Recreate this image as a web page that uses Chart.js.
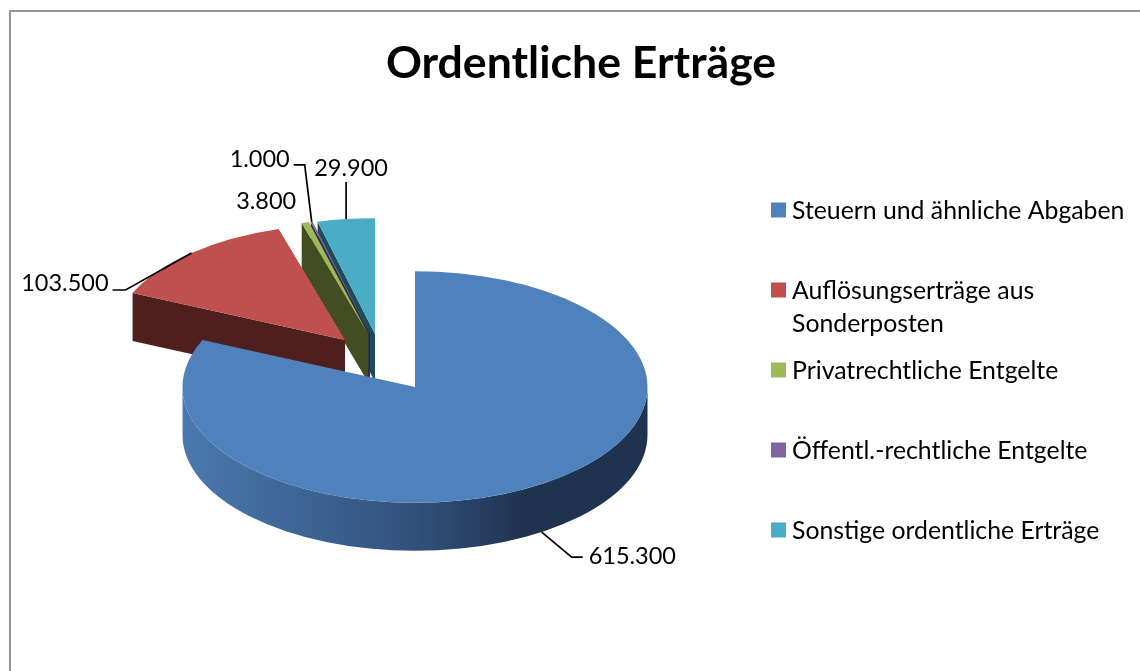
<!DOCTYPE html>
<html lang="de">
<head>
<meta charset="utf-8">
<title>Ordentliche Erträge</title>
<script src="https://cdn.jsdelivr.net/npm/chart.js@4/dist/chart.umd.min.js"></script>
<style>
  html, body { margin: 0; padding: 0; background: #fff; overflow: hidden; }
  #rahmen { position: absolute; left: 9px; top: 10px; width: 1140px; height: 670px; border: 2px solid #969696; box-sizing: border-box; }
  #diagramm { position: absolute; left: 0; top: 0; }
</style>
</head>
<body>
<div id="rahmen"></div>
<canvas id="diagramm" width="1140" height="671"></canvas>
<script>
const kategorien = ["Steuern und ähnliche Abgaben", "Auflösungserträge aus Sonderposten", "Privatrechtliche Entgelte", "Öffentl.-rechtliche Entgelte", "Sonstige ordentliche Erträge"];
const werte = [615300, 103500, 3800, 1000, 29900];
const farben = ["#4f81bd", "#c0504d", "#9bbb59", "#8064a2", "#4bacc6"];
const seitenFarben = ["#1f3350", "#4f1f1e", "#434d22", "#362a45", "#1e4a5a"];

// Legende: Zeilen pro Eintrag (Umbruch wie im Original)
const legendeZeilen = [["Steuern und ähnliche Abgaben"], ["Auflösungserträge aus", "Sonderposten"], ["Privatrechtliche Entgelte"], ["Öffentl.-rechtliche Entgelte"], ["Sonstige ordentliche Erträge"]];

const FONT = "Lato, Carlito, sans-serif";
const PIE = { x: 415, y: 387, r: 232.5, kipp: 0.498, tiefe: 48 };
// Verschiebung der herausgezogenen Stücke
const versatz = [[0, 0], [-70, -47], [-47, -53], [-45, -53], [-40, -53]];
// Führungslinien und Beschriftung relativ zum Randpunkt des Stücks
const fuehrung = [
    { linie: [[30, 25], [41, 25]], text: [47, 24], align: "left" },
    { linie: [[-66, 37], [-79, 37]], text: [-83, 30], align: "right" },
    { linie: [], text: [-9, -21], align: "right" },
    { linie: [[-7, -57], [-18, -57]], text: [-22, -62], align: "right" },
    { linie: [[0, -37]], text: [5, -51], align: "center" }
];

// Punkt auf dem gekippten Kreis für einen Chart.js-Winkel
function punkt(i, winkel, radius) {
    return {
        x: PIE.x + versatz[i][0] + Math.cos(winkel) * radius,
        y: PIE.y + versatz[i][1] + Math.sin(winkel) * radius * PIE.kipp
    };
}

function zeichneWand(ctx, i, winkel) {
    const m = punkt(i, winkel, 0);
    const a = punkt(i, winkel, PIE.r);
    ctx.fillStyle = seitenFarben[i];
    ctx.beginPath();
    ctx.moveTo(m.x, m.y);
    ctx.lineTo(a.x, a.y);
    ctx.lineTo(a.x, a.y + PIE.tiefe);
    ctx.lineTo(m.x, m.y + PIE.tiefe);
    ctx.closePath();
    ctx.fill();
}

function zeichneRand(ctx, i, von, bis) {
    const mx = PIE.x + versatz[i][0];
    const my = PIE.y + versatz[i][1];
    const ry = PIE.r * PIE.kipp;
    const verlauf = ctx.createLinearGradient(mx - PIE.r, 0, mx + PIE.r, 0);
    verlauf.addColorStop(0, "#4a79ae");
    verlauf.addColorStop(0.5, "#31517b");
    verlauf.addColorStop(0.74, seitenFarben[i]);
    verlauf.addColorStop(1, seitenFarben[i]);
    ctx.fillStyle = verlauf;
    ctx.beginPath();
    ctx.ellipse(mx, my, PIE.r, ry, 0, von, bis);
    ctx.ellipse(mx, my + PIE.tiefe, PIE.r, ry, 0, bis, von, true);
    ctx.closePath();
    ctx.fill();
}

const torte3d = {
    id: "torte3d",
    beforeDatasetDraw(chart, args) {
        const ctx = chart.ctx;
        const boegen = chart.getDatasetMeta(args.index).data;
        // von hinten nach vorn: Sonstige zuerst, Steuern zuletzt
        for (let i = boegen.length - 1; i >= 0; i--) {
            const b = boegen[i];
            if (-Math.cos(b.startAngle) > 0) zeichneWand(ctx, i, b.startAngle);
            if (Math.cos(b.endAngle) > 0) zeichneWand(ctx, i, b.endAngle);
            const von = Math.max(b.startAngle, 0);
            const bis = Math.min(b.endAngle, Math.PI);
            if (bis > von) zeichneRand(ctx, i, von, bis);
            ctx.save();
            ctx.translate(PIE.x + versatz[i][0], PIE.y + versatz[i][1]);
            ctx.scale(1, PIE.kipp);
            ctx.translate(-b.x, -b.y);
            b.draw(ctx);
            ctx.restore();
        }
        return false;
    },
    afterDraw(chart) {
        const ctx = chart.ctx;
        const boegen = chart.getDatasetMeta(0).data;
        ctx.save();
        ctx.font = "23.5px " + FONT;
        ctx.textBaseline = "middle";
        boegen.forEach((b, i) => {
            const mitte = (b.startAngle + b.endAngle) / 2;
            const rand = punkt(i, mitte, PIE.r);
            if (Math.sin(mitte) > 0) rand.y += PIE.tiefe;
            const f = fuehrung[i];
            if (f.linie.length) {
                ctx.strokeStyle = "#000";
                ctx.lineWidth = 1.7;
                ctx.beginPath();
                ctx.moveTo(rand.x, rand.y);
                f.linie.forEach(p => ctx.lineTo(rand.x + p[0], rand.y + p[1]));
                ctx.stroke();
            }
            ctx.fillStyle = "#000";
            ctx.textAlign = f.align;
            ctx.fillText(werte[i].toLocaleString("de-DE"), rand.x + f.text[0], rand.y + f.text[1]);
        });
        // Legende
        ctx.font = "24.8px " + FONT;
        ctx.textAlign = "left";
        legendeZeilen.forEach((zeilen, i) => {
            const y = 210 + i * 80;
            ctx.fillStyle = farben[i];
            ctx.fillRect(771, y - 7.5, 15, 15);
            ctx.fillStyle = "#000";
            zeilen.forEach((z, k) => ctx.fillText(z, 792, y + 1 + k * 33));
        });
        ctx.restore();
    }
};

new Chart(document.getElementById("diagramm"), {
    type: "pie",
    data: {
        labels: kategorien,
        datasets: [{
            data: werte,
            backgroundColor: farben,
            borderWidth: 0,
            radius: PIE.r
        }]
    },
    options: {
        responsive: false,
        animation: false,
        events: [],
        layout: { padding: { left: 22 } },
        plugins: {
            legend: { display: false },
            tooltip: { enabled: false },
            title: {
                display: true,
                text: "Ordentliche Erträge",
                color: "#000",
                font: { family: FONT, size: 44.6, weight: "bold" },
                padding: { top: 37, bottom: 20 }
            }
        }
    },
    plugins: [torte3d]
});
</script>
</body>
</html>
